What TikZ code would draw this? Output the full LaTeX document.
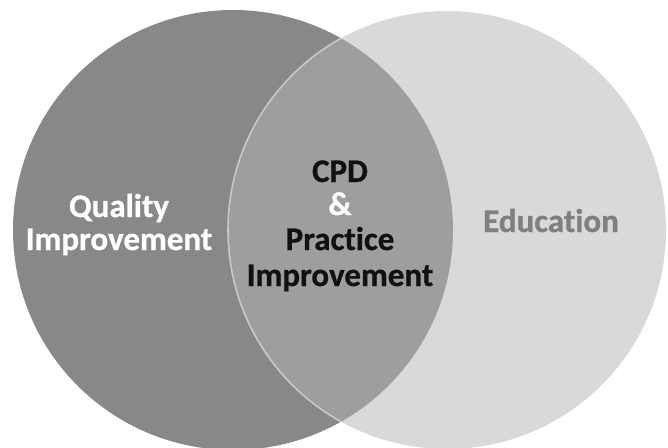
\documentclass[tikz,border=0pt]{standalone}
\usepackage{fontspec}
\setmainfont{Carlito}[Ligatures=NoCommon, BoldFeatures={FakeBold=0.8}]
\definecolor{cDark}{RGB}{136,136,136}
\definecolor{cLight}{RGB}{217,217,217}
\definecolor{cMid}{RGB}{158,158,158}
\definecolor{cLine}{RGB}{200,200,200}
\definecolor{cEdu}{RGB}{128,128,128}
\definecolor{cInk}{RGB}{17,17,17}
\begin{document}
\begin{tikzpicture}[x=1pt,y=-1pt,
  lbl/.style={font=\bfseries\fontsize{33}{38}\selectfont, anchor=base, inner sep=0pt}]
\useasboundingbox (0,0) rectangle (668,447);
\begin{scope}
\clip (0,0) rectangle (668,447);
\fill[cDark] (233,230) circle[radius=220pt];
\fill[cLight] (447,230) circle[radius=219pt];
\begin{scope}
\clip (233,230) circle[radius=220pt];
\fill[cMid] (447,230) circle[radius=219pt];
\draw[cLine, line width=1.6pt] (447,230) circle[radius=219pt];
\end{scope}
\end{scope}
\node[lbl, text=white] (q1) at (119,217) {Quality};
\node[lbl, text=white] (q2) at (119,250) {Improvement};
\node[lbl, text=cInk] (c1) at (340,182) {CPD};
\node[lbl, text=white] (c2) at (340,215) {\&};
\node[lbl, text=cInk] (c3) at (340,250) {Practice};
\node[lbl, text=cInk] (c4) at (340,286) {Improvement};
\node[lbl, text=cEdu] (e1) at (551,232) {Education};
\end{tikzpicture}
\end{document}
